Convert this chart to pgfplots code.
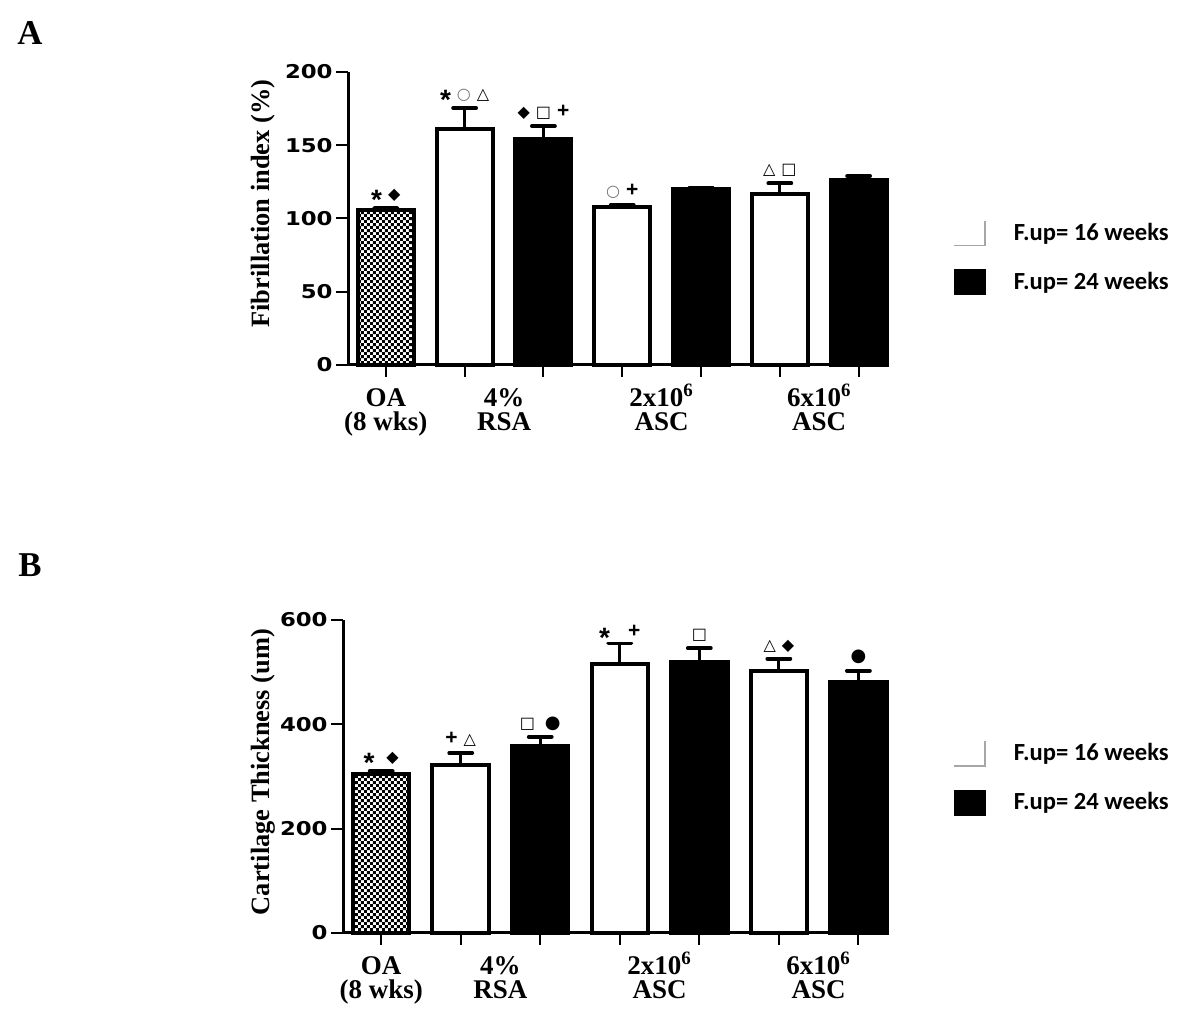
\documentclass[border=0pt]{standalone}
\usepackage{fontspec}
\setmainfont{Liberation Serif}
\setsansfont{Liberation Sans}
\newfontfamily\symf{DejaVu Sans}
\newfontfamily\numf{DejaVu Sans}
\newfontfamily\legf{Carlito}
\usepackage{graphicx}
\usepackage{xcolor}
\usepackage{pgfplots}
\pgfplotsset{compat=1.18}
\usetikzlibrary{patterns}

\pgfdeclarepatternformonly{finecheck}{\pgfpointorigin}{\pgfqpoint{3.2pt}{3.2pt}}{\pgfqpoint{3.2pt}{3.2pt}}{%
  \pgfpathrectangle{\pgfpointorigin}{\pgfqpoint{1.6pt}{1.6pt}}%
  \pgfpathrectangle{\pgfqpoint{1.6pt}{1.6pt}}{\pgfqpoint{1.6pt}{1.6pt}}%
  \pgfusepath{fill}}

% annotation symbols
\newcommand{\sy}[1]{{\symf\fontsize{8}{8}\selectfont #1}}
\newcommand{\bsy}[1]{{\symf\fontsize{9}{9}\selectfont #1}}
\newcommand{\st}{\raisebox{-5pt}[4.5pt][0pt]{\sffamily\bfseries\fontsize{14}{14}\selectfont *}}
\newcommand{\pl}{{\sffamily\bfseries\fontsize{10.5}{10.5}\selectfont +}}
\newcommand{\gs}{\hspace{3pt}}

% two-line category label, baseline on the first line, 12pt line pitch
\newcommand{\xlab}[2]{\vtop{\baselineskip=12pt\lineskiplimit=-20pt\halign{\hfil##\hfil\cr#1\cr#2\cr}}}

\pgfplotsset{
  panel/.style={
    scale only axis, clip=false, enlargelimits=false,
    xmin=-0.48, xmax=6.36, ymin=0,
    axis lines=left, axis line style={line width=1.5pt, -},
    tick align=outside, major tick length=6pt,
    tick style={line width=1pt, black},
    xtick={0,...,6}, xticklabels={},
    extra x ticks={0,1.5,3.5,5.5},
    extra x tick labels={\xlab{OA}{(8 wks)},\xlab{4\%}{RSA},\xlab{2x10\textsuperscript{6}}{ASC},\xlab{6x10\textsuperscript{6}}{ASC}},
    extra x tick style={major tick length=0pt, tick style={draw=none},
      xticklabel style={anchor=base, yshift=-21pt}},
    xticklabel style={font=\bfseries\fontsize{13.5}{12}\selectfont},
    /pgf/number format/assume math mode=true,
    yticklabel={\scalebox{1.2}[1]{\pgfmathprintnumber{\tick}}},
    yticklabel style={font=\numf\bfseries\fontsize{9.5}{9.5}\selectfont, inner sep=1.5pt},
    ylabel style={font=\bfseries\fontsize{13.2}{14}\selectfont, anchor=center},
    legend cell align=left,
    legend style={draw=none, fill=none, inner sep=0pt, anchor=north west,
      row sep=10.5pt, font=\legf\bfseries\fontsize{12.3}{12.3}\selectfont,
      /tikz/every odd column/.append style={column sep=12pt}},
  },
  whitebar/.style={ybar, bar width=0.71, bar shift=0pt, fill=white, draw=black, line width=2pt, forget plot},
  blackbar/.style={ybar, bar width=0.71, bar shift=0pt, fill=black, draw=black, line width=2pt, forget plot},
  checkbar/.style={ybar, bar width=0.71, bar shift=0pt, pattern=finecheck, draw=black, line width=2pt, forget plot},
  errs/.style={error bars/.cd, y dir=plus, y explicit, error mark=|,
    error bar style={line width=1.6pt, black},
    error mark options={line width=1.9pt, mark size=5.75pt, black, line cap=round}},
  annot/.style={forget plot, only marks, mark=*, mark size=0pt, mark options={draw=none, fill=none},
    nodes near coords, point meta=explicit symbolic,
    nodes near coords style={anchor=south, inner sep=0pt, yshift=3pt}},
}

\begin{document}
\begin{tikzpicture}
\path[use as bounding box] (0,0) rectangle (600pt,513pt);

% ---------------- panel A ----------------
\begin{axis}[panel, at={(174pt,330.5pt)}, anchor=south west,
  width=269.5pt, height=146.5pt, ymax=200, ytick={0,50,...,200},
  ylabel={Fibrillation index (\%)},
  ylabel style={at={(axis description cs:-0.158,0.551)}},
  legend style={at={(1.1224,0.50)}}]
\addplot[checkbar, errs] coordinates {(0,105.7) +- (0,1.8)};
\addplot[whitebar, errs] coordinates {(1,161) +- (0,14.5) (3,108) +- (0,1.2) (5,117) +- (0,7)};
\addplot[blackbar, errs] coordinates {(2,154) +- (0,9) (4,120) +- (0,1.2) (6,126) +- (0,3)};
\addplot[annot] coordinates {
  (0,107.5) [{\st\gs\sy{◆}}]
  (1,175.5) [{\st\gs\sy{\textcolor{black!55}{○}}\gs\sy{△}}]
  (2,163)   [{\sy{◆}\gs\sy{□}\gs\pl}]
  (3,109.2) [{\sy{\textcolor{black!55}{○}}\gs\pl}]
  (5,124)   [{\sy{△}\gs\sy{□}}]
};
\addlegendimage{legend image code/.code={\draw[black!35, line width=0.7pt] (0pt,-6.25pt) -- (15.5pt,-6.25pt) -- (15.5pt,6.25pt);}}
\addlegendentry{F.up= 16 weeks}
\addlegendimage{legend image code/.code={\fill[black] (0pt,-6.25pt) rectangle (15.5pt,6.25pt);}}
\addlegendentry{F.up= 24 weeks}
\end{axis}

% ---------------- panel B ----------------
\begin{axis}[panel, at={(171.5pt,46.5pt)}, anchor=south west,
  width=272pt, height=156.5pt, ymax=600, ytick={0,200,400,600},
  ylabel={Cartilage Thickness (um)},
  ylabel style={at={(axis description cs:-0.147,0.514)}},
  legend style={at={(1.1213,0.62)}}]
\addplot[checkbar, errs] coordinates {(0,305) +- (0,5)};
\addplot[whitebar, errs] coordinates {(1,323) +- (0,22) (3,516) +- (0,39) (5,503) +- (0,23)};
\addplot[blackbar, errs] coordinates {(2,358) +- (0,18) (4,519) +- (0,27) (6,481) +- (0,22)};
\addplot[annot] coordinates {
  (0,310) [{\st\hspace{6pt}\sy{◆}}]
  (1,345) [{\pl\gs\sy{△}}]
  (2,376) [{\sy{□}\hspace{5pt}\bsy{●}}]
  (3,555) [{\st\hspace{9pt}\pl}]
  (4,546) [{\sy{□}}]
  (5,526) [{\sy{△}\gs\sy{◆}}]
  (6,503) [{\bsy{●}}]
};
\addlegendimage{legend image code/.code={\draw[black!35, line width=0.7pt] (0pt,-6.25pt) -- (15.5pt,-6.25pt) -- (15.5pt,6.25pt);}}
\addlegendentry{F.up= 16 weeks}
\addlegendimage{legend image code/.code={\fill[black] (0pt,-6.25pt) rectangle (15.5pt,6.25pt);}}
\addlegendentry{F.up= 24 weeks}
\end{axis}

\node[font=\bfseries\fontsize{17.4}{18}\selectfont] at (15pt,496.25pt) {A};
\node[font=\bfseries\fontsize{17.4}{18}\selectfont] at (15pt,230.5pt) {B};
\end{tikzpicture}
\end{document}
